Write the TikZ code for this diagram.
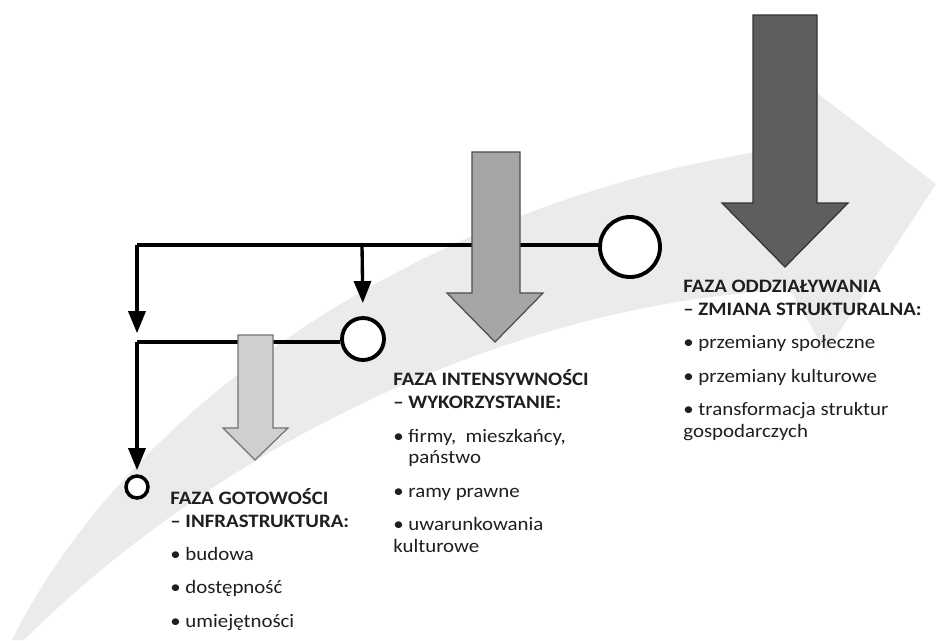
\documentclass[tikz,border=0pt]{standalone}
\usepackage{fontspec}
\setmainfont{Carlito}[FakeStretch=1.1]
\usetikzlibrary{arrows.meta}
\newcommand\blt{\textbullet\ }
\begin{document}
\begin{tikzpicture}[x=0.02cm,y=-0.02cm,
  link/.style={line width=1.9pt, draw=black},
  arr/.style={link, -{Triangle[length=4.4mm,width=3.4mm]}},
  ring/.style={circle, draw=black, line width=2.2pt, fill=white, inner sep=0pt},
  blk/.style={line width=0.7pt, line join=miter},
  phase/.style={anchor=base west, inner sep=0pt, align=left, text=black!88,
    font=\fontsize{10.8}{12.5}\selectfont},
]
\useasboundingbox (0,0) rectangle (936,640);
\fill[white] (0,0) rectangle (936,640);
% background swoosh
\fill[black!8] (12,640) .. controls (140,385) and (450,200) .. (758,152)
  -- (808,86) -- (936,184) -- (826,352) -- (790,290)
  .. controls (520,302) and (225,440) .. (24,640) -- cycle;
% connectors and circles
\coordinate (tl) at (137,245);
\coordinate (ml) at (137,342);
\coordinate (tb) at (362,245);
\node[ring, minimum size=1.2cm] (c3) at (630,247) {};
\node[ring, minimum size=0.84cm] (c2) at (363,339) {};
\node[ring, minimum size=0.44cm, line width=2pt] (c1) at (137,487) {};
\draw[link] (tl) -- (tl -| c3.west);
\draw[link] (ml) -- (ml -| c2.west);
\draw[arr, shorten >=5pt] (tl) -- (ml);
\draw[arr, shorten >=7.4pt] (tb) -- (c2.north);
\draw[arr, shorten >=2.3pt] (ml) -- (c1.north);
% block arrows
\filldraw[blk, fill=black!63, draw=black!80] (753,15) -- (817,15) -- (817,203) -- (848,203)
  -- (785,267) -- (722,203) -- (753,203) -- cycle;
\filldraw[blk, fill=black!35, draw=black!70] (472,152) -- (520,152) -- (520,293) -- (543,293)
  -- (495,342) -- (447,293) -- (472,293) -- cycle;
\filldraw[blk, fill=black!19, draw=black!55] (238,335) -- (273,335) -- (273,428) -- (288,428)
  -- (255,460) -- (223,428) -- (238,428) -- cycle;
% texts (anchored at the baseline of their last line)
\node[phase] (tg) at (170,627) {\textbf{FAZA GOTOWOŚCI}\\[0.6pt]\textbf{– INFRASTRUKTURA:}\\[6.3pt]
  \blt budowa\\[6.3pt]\blt dostępność\\[6.3pt]\blt umiejętności};
\node[phase] (ti) at (393,552) {\textbf{FAZA INTENSYWNOŚCI}\\[0.6pt]\textbf{– WYKORZYSTANIE:}\\[6.3pt]
  \blt firmy,\ \ mieszkańcy,\\\hphantom{\blt}państwo\\[6.3pt]\blt ramy prawne\\[6.3pt]
  \blt uwarunkowania\\kulturowe};
\node[phase] (to) at (683,437) {\textbf{FAZA ODDZIAŁYWANIA}\\[0.6pt]\textbf{– ZMIANA STRUKTURALNA:}\\[6.3pt]
  \blt przemiany społeczne\\[6.3pt]\blt przemiany kulturowe\\[6.3pt]
  \blt transformacja struktur\\gospodarczych};
\end{tikzpicture}
\end{document}
